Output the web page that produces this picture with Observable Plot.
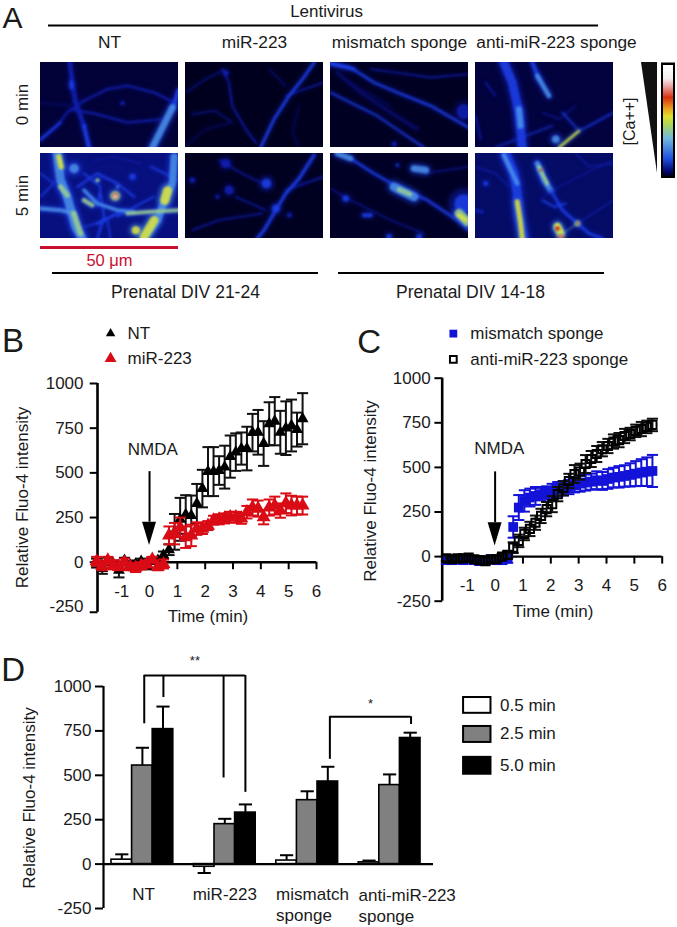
<!DOCTYPE html>
<html>
<head>
<meta charset="utf-8">
<script src="https://cdn.jsdelivr.net/npm/d3@7"></script>
<script src="https://cdn.jsdelivr.net/npm/@observablehq/plot@0.6"></script>
<style>
html,body{margin:0;padding:0;background:#fff}
#page{position:relative;width:677px;height:927px;overflow:hidden;background:#fff}
#page svg{position:absolute;overflow:visible;background:transparent}
</style>
</head>
<body>
<div id="page"></div>
<script>
const FONT = '"Liberation Sans", Arial, sans-serif';
const INK = "#1a1a1a";

/* ---------- Panel A: micrograph columns, rows, structures ---------- */
const colNames = ["NT", "miR-223", "mismatch sponge", "anti-miR-223 sponge"];
const colCentres = [109, 254, 399, 556];
const imageLefts = [40, 185, 330, 475];
const imageTops = [62, 153];
const rowNames = ["0 min", "5 min"];
const rowCentres = [104, 195];
const levelColors = ["#080c6c", "#1020b4", "#1c40e8", "#4a90e8", "#9ccf90", "#dfe83a", "#d01818", "#ffffff"];
const imageBackgrounds = ["#020238", "#00001e", "#000022", "#02023e", "#07107e", "#000020", "#000026", "#040c66"];
/* each structure: [intensity level, width, [x,y, x,y, ...]] in a 413x255 picture frame */
const imgNT0 = [
  [0,3,[0,120,80,130,140,110]],[1,14,[88,0,95,60,105,120,130,190]],[2,12,[130,190,145,255]],
  [1,6,[0,235,50,190,80,150,130,115,200,80,260,70,340,90,400,120]],
  [1,6,[90,140,170,155,260,180,370,170]],[2,6,[0,230,60,180]],[1,12,[245,122,246,122]],
  [2,14,[413,85,395,140]],[3,20,[395,135,375,175,350,225,335,255]],[2,12,[92,60,93,75]]
];
const imgMir0 = [
  [1,16,[120,30,122,32]],[1,5,[110,20,130,60,140,130,180,200,210,240]],
  [1,3,[0,90,60,50,110,25]],[1,3,[20,155,90,145,140,180]],[1,4,[300,100,413,60]],
  [0,3,[340,130,320,210,340,255]],[0,3,[0,250,60,200,140,180]],[1,3,[250,20,300,70]],
  [2,8,[385,0,350,50,310,100,265,170,225,255]]
];
const imgMis0 = [
  [0,8,[20,30,90,90,180,150,260,200]],[0,3,[40,50,120,95,180,130]],[1,4,[120,20,230,35,300,45,413,35]],
  [2,5,[0,90,70,125,140,160,220,215,280,255]],[2,10,[0,5,70,20]],
  [2,7,[0,0,60,15,130,60,200,90,300,130,413,195]],[1,40,[398,145,399,150]],[1,14,[190,245,191,245]]
];
const imgAnt0 = [
  [1,3,[200,150,250,170,300,130]],[1,4,[30,60,60,100]],
  [1,5,[0,160,15,230]],[2,26,[85,0,110,60,130,150,140,255]],[3,18,[130,140,135,190]],
  [2,12,[170,0,190,50]],[3,14,[185,40,220,100]],[2,3,[60,255,150,220,230,190]],
  [3,22,[240,230,241,230]],[2,4,[260,150,305,200]],[2,4,[310,205,340,190,413,150]],
  [5,7,[250,255,310,205]]
];
const imgNT5 = [
  [2,4,[0,60,40,90,0,130]],[2,5,[130,60,180,100,170,160]],[2,5,[230,190,300,150,340,130]],
  [2,4,[130,220,200,200,210,255]],[2,5,[330,40,413,80]],[1,4,[160,20,220,10,300,30]],
  [2,6,[110,100,170,60,230,90,280,130]],[2,6,[180,120,190,190,170,255]],[2,8,[170,210,250,170]],
  [3,26,[50,0,60,80,80,130,105,220,125,255]],[3,12,[0,165,60,170,100,180]],
  [3,22,[400,10,395,90,375,130,350,200,310,255]],[3,10,[130,110,170,150,230,170,280,175]],
  [4,12,[260,180,330,175,413,170]],[3,28,[100,45,101,45]],[4,12,[170,80,171,80]],
  [2,18,[275,70,276,70]],[3,8,[230,100,231,100]],
  [5,16,[55,10,62,40]],[4,16,[60,100,80,125]],[4,18,[100,180,120,240]],[4,14,[130,140,155,155]],
  [5,28,[372,140,380,112]],[5,26,[340,200,310,250]],[5,24,[285,230,286,230]],
  [4,26,[223,127,224,127]],[6,16,[223,127,224,127]],[7,10,[223,128,224,128]]
];
const imgMir5 = [
  [1,5,[300,110,413,70]],[1,4,[150,130,240,170]],[1,4,[20,230,100,200,230,180]],[1,4,[100,20,170,60,230,90]],
  [1,28,[120,30,121,30]],[1,26,[130,110,131,110]],[1,12,[95,130,96,130]],[1,16,[20,80,21,80]],[1,14,[310,185,311,185]],
  [2,9,[385,5,340,75,300,120,270,170,235,230,215,255]],[2,28,[242,90,243,90]],[2,22,[270,165,271,165]]
];
const imgMis5 = [
  [1,3,[0,105,80,150,180,200,280,240]],[1,3,[280,60,413,40]],
  [2,7,[60,15,130,60,200,100,290,140,380,200,413,230]],[3,16,[20,0,60,15]],
  [2,55,[398,150,399,150]],[2,8,[200,35,201,35]],[3,20,[250,45,285,50]],
  [2,18,[45,135,46,135]],[2,12,[100,185,120,185]],[2,16,[175,250,176,250]],[2,16,[265,250,266,250]],
  [3,26,[190,100,250,130]],[4,14,[205,108,238,122]],[4,28,[385,180,410,205]],[5,12,[385,185,405,200]]
];
const imgAnt5 = [
  [1,4,[0,40,60,60,100,100]],[1,3,[200,130,250,100,330,60,413,20]],[1,4,[300,0,340,40,413,30]],
  [2,14,[30,90,31,90]],[1,12,[0,170,20,175]],[2,5,[200,140,235,160,270,150]],
  [1,4,[305,210,413,140]],[2,28,[90,0,115,60,125,120,130,190,145,255]],[3,14,[85,5,125,90]],
  [3,16,[185,30,205,80,225,110]],[2,8,[225,110,260,170,305,210,340,240,380,255]],
  [5,16,[125,145,135,210,140,255]],[4,12,[190,40,215,90]],[6,7,[195,50,196,50]],
  [4,25,[245,220,255,240]],[5,14,[245,215,255,235]],[4,2,[255,245,305,210]],[4,16,[305,210,306,210]],
  [6,14,[245,225,246,225]],[6,14,[255,250,256,250]],[7,6,[255,250,256,250]],[6,7,[305,210,306,210]]
];
const allImages = [imgNT0, imgMir0, imgMis0, imgAnt0, imgNT5, imgMir5, imgMis5, imgAnt5];

const scaleStops = [65, 78, 86, 97, 108, 116, 123, 138, 158, 172, 176];
const scaleColors = ["#ffffff", "#f4eeee", "#e8a0a0", "#d83010", "#e8a020", "#e0e030", "#b0d850", "#70b8e0", "#2050e0", "#000060", "#000010"];

/* ---------- Panel B data ---------- */
const timesB = [-1.9,-1.7,-1.5,-1.3,-1.1,-0.9,-0.7,-0.5,-0.3,-0.1,0.1,0.3,0.5,0.7,0.9,1.1,1.3,1.5,1.7,1.9,2.1,2.3,2.5,2.7,2.9,3.1,3.3,3.5,3.7,3.9,4.1,4.3,4.5,4.7,4.9,5.1,5.3,5.5];
const ntValues = [-5,-35,5,-10,-45,10,-15,-10,5,-20,5,10,40,70,170,240,267,261,328,412,507,507,513,532,591,616,636,636,725,727,664,775,789,727,750,765,742,803];
const ntErrors = [25,30,20,20,40,15,20,20,15,20,15,20,20,30,100,120,108,112,110,105,137,137,80,120,118,105,90,122,105,125,125,120,135,120,150,145,95,143];
const mirValues = [5,-20,10,-15,-25,0,-25,-30,-20,-10,15,-25,-10,150,160,195,140,150,188,188,205,235,240,245,252,252,245,280,306,300,252,306,317,289,330,317,317,317];
const mirErrors = [25,25,20,25,20,20,20,25,20,20,15,20,25,50,60,55,60,60,35,30,25,25,28,28,30,30,30,35,45,45,40,45,50,40,55,55,50,50];

/* ---------- Panel C data ---------- */
const timesC = [-1.75,-1.55,-1.35,-1.15,-0.95,-0.75,-0.55,-0.35,-0.15,0.05,0.25,0.45,0.65,0.85,1.05,1.25,1.45,1.65,1.85,2.05,2.25,2.45,2.65,2.85,3.05,3.25,3.45,3.65,3.85,4.05,4.25,4.45,4.65,4.85,5.05,5.25,5.45,5.65];
const mismatchValues = [-20,-20,-15,-20,-15,-20,-25,-20,-15,-20,-20,-10,166,275,312,331,340,350,359,368,378,383,390,400,409,415,420,428,424,435,443,447,452,458,465,471,476,480];
const mismatchErrors = [20,20,18,20,18,20,22,20,20,18,20,25,60,70,60,50,50,35,35,40,40,40,40,40,45,45,45,50,50,55,55,60,60,65,70,75,80,90];
const spongeValues = [-10,-15,-10,-10,-5,-15,-20,-25,-15,-15,0,10,50,88,127,155,190,228,266,294,350,383,424,463,476,519,547,575,602,620,645,653,676,687,705,715,727,738];
const spongeErrors = [15,15,15,15,15,15,18,18,15,15,15,20,30,35,35,40,40,40,40,45,40,40,40,50,45,50,45,45,40,40,40,40,40,35,35,40,35,35];

/* ---------- Panel D data ---------- */
const groupNames = ["NT", "miR-223", "mismatch", "anti-miR-223"];
const timeNames = ["0.5 min", "2.5 min", "5.0 min"];
const timeFills = ["#ffffff", "#808080", "#000000"];
const barsNT = [25, 555, 760];
const barsMir = [-15, 225, 290];
const barsMismatch = [20, 360, 465];
const barsSponge = [10, 445, 710];
const barErrNT = [30, 100, 127];
const barErrMir = [-35, 30, 46];
const barErrMismatch = [30, 50, 83];
const barErrSponge = [10, 60, 30];

const yTicks = [-250, 0, 250, 500, 750, 1000];
const xTicks = [-1, 0, 1, 2, 3, 4, 5, 6];

/* ---------- helpers ---------- */
const page = document.getElementById("page");
function place(svg, left, top) {
  svg.style.left = left + "px";
  svg.style.top = top + "px";
  page.appendChild(svg);
}
const T = (rows, o) => Plot.text(rows, {fontSize: 17, fill: INK, ...o});
const series = (t, v, e) => t.map((x, i) => ({t: x, v: v[i], e: e[i]}));

/* ---------- Panel A frame ---------- */
const topRules = [{y: 25, a: 48, b: 598}, {y: 272.5, a: 52, b: 318}, {y: 272.5, a: 338, b: 604}];
const bottomLabels = [{x: 185, y: 292, s: "Prenatal DIV 21-24"}, {x: 470, y: 292, s: "Prenatal DIV 14-18"}];
const stripRows = d3.range(65, 176);
place(Plot.plot({
  width: 677, height: 310, margin: 0,
  style: {fontFamily: FONT},
  x: {domain: [0, 677], axis: null},
  y: {domain: [0, 310], reverse: true, axis: null},
  color: {type: "linear", domain: scaleStops, range: scaleColors},
  marks: [
    T([{x: 2, y: 18, s: "A"}], {x: "x", y: "y", text: "s", fontSize: 30, textAnchor: "start"}),
    T([{x: 326, y: 11, s: "Lentivirus"}], {x: "x", y: "y", text: "s", fontSize: 17}),
    Plot.ruleY(topRules, {y: "y", x1: "a", x2: "b", stroke: "#000", strokeWidth: 2}),
    T(colNames.map((s, i) => ({s, x: colCentres[i]})), {x: "x", y: () => 42, text: "s", fontSize: 17.3}),
    T(rowNames.map((s, i) => ({s, y: rowCentres[i]})), {x: () => 22, y: "y", text: "s", rotate: -90}),
    Plot.ruleY([{y: 247, a: 40, b: 178}], {y: "y", x1: "a", x2: "b", stroke: "#c8102e", strokeWidth: 3}),
    T([{x: 109, y: 260, s: "50 μm"}], {x: "x", y: "y", text: "s", fill: "#c8102e", fontSize: 16.5}),
    T(bottomLabels, {x: "x", y: "y", text: "s", fontSize: 17.5}),
    T([{x: 629, y: 121, s: "[Ca++]"}], {x: "x", y: "y", text: "s", rotate: -90, fontSize: 16}),
    Plot.areaX([{y: 62, a: 641, b: 657}, {y: 173, a: 657, b: 657}], {y: "y", x1: "a", x2: "b", fill: "#111"}),
    Plot.rect([{a: 661, b: 675, c: 62.5, d: 178}], {x1: "a", x2: "b", y1: "c", y2: "d", fill: "#000"}),
    Plot.rect(stripRows, {x1: () => 663, x2: () => 673, y1: d => d, y2: d => d + 1.3, fill: d => d})
  ]
}), 0, 0);

/* ---------- Panel A micrographs ---------- */
allImages.forEach((structures, k) => {
  const rows = structures.flatMap(([level, w, pts], id) =>
    d3.range(0, pts.length, 2).map(j => ({
      id, px: pts[j], py: pts[j + 1],
      c: levelColors[level], halo: levelColors[Math.max(level - (level > 3 ? 2 : 1), 0)], w: w / 3
    })));
  const svg = Plot.plot({
    width: 138, height: 85, margin: 0,
    x: {domain: [0, 413], axis: null},
    y: {domain: [0, 255], reverse: true, axis: null},
    marks: [
      Plot.rect([0], {x1: () => 0, x2: () => 413, y1: () => 0, y2: () => 255, fill: imageBackgrounds[k]}),
      Plot.line(rows, {x: "px", y: "py", z: "id", stroke: "halo", strokeWidth: d => d.w * 1.6 + 1, clip: true, imageFilter: "blur(2px)", strokeOpacity: 0.5}),
      Plot.line(rows, {x: "px", y: "py", z: "id", stroke: "c", strokeWidth: "w", clip: true, imageFilter: "blur(1.2px)", strokeOpacity: 0.85})
    ]
  });
  svg.style.overflow = "hidden";
  place(svg, imageLefts[k % 4], imageTops[k < 4 ? 0 : 1]);
});

/* ---------- Panels B and C ---------- */
function timePanel(c) {
  const errBars = (rows, color) => [
    Plot.ruleX(rows, {x: "t", y1: d => d.v - d.e, y2: d => d.v + d.e, stroke: color, strokeWidth: 2}),
    Plot.link(rows, {x1: d => d.t - c.cap, x2: d => d.t + c.cap, y1: d => d.v + d.e, y2: d => d.v + d.e, stroke: color, strokeWidth: 2}),
    Plot.link(rows, {x1: d => d.t - c.cap, x2: d => d.t + c.cap, y1: d => d.v - d.e, y2: d => d.v - d.e, stroke: color, strokeWidth: 2})
  ];
  return Plot.plot({
    width: c.width, height: 320,
    marginLeft: c.left, marginRight: c.width - c.right, marginTop: c.top, marginBottom: 320 - c.bottom,
    style: {fontFamily: FONT},
    x: {domain: [c.xMin, 6], axis: null},
    y: {domain: [-250, 1000], axis: null},
    marks: [
      Plot.ruleY([0], {stroke: "#000", strokeWidth: 2.4}),
      Plot.ruleX(xTicks, {y1: 0, y2: -42, stroke: "#000", strokeWidth: 2}),
      Plot.ruleX([c.xMin], {y1: c.foot, y2: 1000, stroke: "#000", strokeWidth: 2.6}),
      Plot.axisY({ticks: yTicks, tickSize: 0, tickPadding: c.pad, fontSize: 17, label: null, fill: INK, tickFormat: d => String(d)}),
      Plot.link(c.footTicks, {x1: () => c.xMin - 0.28, x2: () => c.xMin, y1: d => d, y2: d => d, stroke: "#000", strokeWidth: 2}),
      T(xTicks, {x: d => d, y: () => 0, dy: 29, text: d => String(d)}),
      T(["Time (min)"], {x: () => c.tLabelX, y: () => -250, dy: c.tLabelDy, text: d => d}),
      T(["Relative Fluo-4 intensity"], {x: () => c.yLabelX, y: () => c.yLabelY, text: d => d, rotate: -90}),
      T(["NMDA"], {x: () => c.nmdaX, y: () => c.nmdaY, text: d => d}),
      Plot.ruleX([0], {y1: c.arrowBase, y2: c.arrowTop, stroke: "#000", strokeWidth: 2}),
      Plot.areaX([{y: c.arrowBase, a: -0.25, b: 0.25}, {y: c.arrowTip, a: 0, b: 0}], {y: "y", x1: "a", x2: "b", fill: "#000"}),
      ...c.layers.flatMap(l => [...errBars(l.rows, l.color), Plot.dot(l.rows, {x: "t", y: "v", ...l.mark})]),
      ...c.legend.flatMap(l => [
        Plot.dot([l], {x: () => c.legendX, y: () => l.y, ...l.mark}),
        T([l.name], {x: () => c.legendX, y: () => l.y, dx: 17, text: d => d, textAnchor: "start"})
      ]),
      T([c.letter], {x: () => c.letterX, y: () => c.letterY, text: d => d, fontSize: 33, textAnchor: "start"})
    ]
  });
}
const triNT = {symbol: "triangle", r: 4.4, fill: "#000", stroke: "none"};
const triMir = {symbol: "triangle", r: 5.2, fill: "#d90b14", stroke: "none"};
const sqBlue = {symbol: "square", r: 5.5, fill: "#1212d8", stroke: "none"};
const sqOpen = {symbol: "square", r: 4.6, fill: "none", stroke: "#000", strokeWidth: 2};

place(timePanel({
  width: 340, left: 97, right: 316, top: 73, bottom: 296.4, xMin: -1.87, foot: -280, footTicks: [-280, 0, 250, 500, 750, 1000],
  tLabelX: 2.1, tLabelDy: 10, yLabelX: -4.56, yLabelY: 362, pad: 14, cap: 0.2,
  nmdaX: 0.12, nmdaY: 630, arrowBase: 224, arrowTop: 507, arrowTip: 93,
  layers: [
    {rows: series(timesB, ntValues, ntErrors), color: "#111", mark: triNT},
    {rows: series(timesB, mirValues, mirErrors), color: "#d90b14", mark: triMir}
  ],
  legend: [
    {name: "NT", y: 1280, mark: {...triNT, r: 3.5}},
    {name: "miR-223", y: 1140, mark: {...triMir, r: 4.4}}
  ],
  legendX: -1.4, letter: "B", letterX: -5.3, letterY: 1238
}), 0, 310);

place(timePanel({
  width: 337, left: 101.7, right: 321.7, top: 67.7, bottom: 290.7, xMin: -1.9, foot: -250, footTicks: [-250, 0, 250, 500, 750, 1000],
  tLabelX: 2.08, tLabelDy: 10, yLabelX: -4.48, yLabelY: 368, pad: 11.5, cap: 0.2,
  nmdaX: 0.15, nmdaY: 605, arrowBase: 190, arrowTop: 475, arrowTip: 60,
  layers: [
    {rows: series(timesC, mismatchValues, mismatchErrors), color: "#1212d8", mark: sqBlue},
    {rows: series(timesC, spongeValues, spongeErrors), color: "#111", mark: sqOpen}
  ],
  legend: [
    {name: "mismatch sponge", y: 1250, mark: {...sqBlue, r: 4.4}},
    {name: "anti-miR-223 sponge", y: 1105, mark: {...sqOpen, r: 3.8}}
  ],
  legendX: -1.5, letter: "C", letterX: -4.95, letterY: 1203
}), 340, 310);

/* ---------- Panel D ---------- */
const allBars = [barsNT, barsMir, barsMismatch, barsSponge];
const allErrs = [barErrNT, barErrMir, barErrMismatch, barErrSponge];
const barRows = groupNames.flatMap((g, i) => timeNames.map((t, j) => ({
  s: i * 4 + j, v: allBars[i][j], e: allErrs[i][j], fill: timeFills[j]
})));
const bracketMain = [{a: 1.59, h: 790}, {a: 2.52, h: 938}, {a: 5.44, h: 485}, {a: 6.5, h: 404}];
const bracketSide = [{a: 10.6, h: 590}, {a: 14.54, h: 786}];
const categoryLines = [
  {s: 1.56, y: -170, t: "NT", anchor: "middle"},
  {s: 5.5, y: -170, t: "miR-223", anchor: "middle"},
  {s: 7.99, y: -170, t: "mismatch", anchor: "start"},
  {s: 7.99, y: -290, t: "sponge", anchor: "start"},
  {s: 11.99, y: -175, t: "anti-miR-223", anchor: "start"},
  {s: 11.99, y: -295, t: "sponge", anchor: "start"}
];
const legendRows = [
  {name: timeNames[0], a: 938, b: 849, m: 893, fill: timeFills[0]},
  {name: timeNames[1], a: 775, b: 685, m: 735, fill: timeFills[1]},
  {name: timeNames[2], a: 601, b: 506, m: 556, fill: timeFills[2]}
];
const capW = 0.32;
place(Plot.plot({
  width: 677, height: 287,
  marginLeft: 103, marginRight: 244, marginTop: 46, marginBottom: 19,
  style: {fontFamily: FONT},
  x: {domain: [-0.388, 15.63], axis: null},
  y: {domain: [-250, 1000], axis: null},
  marks: [
    Plot.ruleX(barRows, {x: d => d.s + 0.5, y1: "v", y2: d => d.v + d.e, stroke: "#000", strokeWidth: 2}),
    Plot.link(barRows, {x1: d => d.s + 0.5 - capW, x2: d => d.s + 0.5 + capW, y1: d => d.v + d.e, y2: d => d.v + d.e, stroke: "#000", strokeWidth: 2}),
    Plot.rectY(barRows, {x1: "s", x2: d => d.s + 1, y1: () => 0, y2: "v", fill: "fill", stroke: "#000", strokeWidth: 1.6}),
    Plot.ruleY([0], {stroke: "#000", strokeWidth: 2.2}),
    Plot.axisY({ticks: yTicks, tickSize: 8, tickPadding: 4, fontSize: 17, label: null, fill: INK, stroke: "#000", strokeWidth: 2, tickFormat: d => String(d)}),
    Plot.ruleX([-0.388], {y1: -250, y2: 1000, stroke: "#000", strokeWidth: 2.2}),
    T(["Relative Fluo-4 intensity"], {x: () => -3.98, y: () => 372, text: d => d, rotate: -90}),
    ...categoryLines.map(l => T([l], {x: "s", y: "y", text: "t", textAnchor: l.anchor})),
    Plot.ruleY([1062], {x1: 1.59, x2: 6.5, stroke: "#000", strokeWidth: 2}),
    Plot.ruleX(bracketMain, {x: "a", y1: "h", y2: () => 1062, stroke: "#000", strokeWidth: 2}),
    Plot.ruleY([830], {x1: 10.6, x2: 14.54, stroke: "#000", strokeWidth: 2}),
    Plot.ruleX(bracketSide, {x: "a", y1: "h", y2: () => 830, stroke: "#000", strokeWidth: 2}),
    T(["**"], {x: () => 4.05, y: () => 1145, text: d => d, fontSize: 13}),
    T(["*"], {x: () => 12.57, y: () => 900, text: d => d, fontSize: 13}),
    Plot.rect(legendRows, {x1: () => 17.09, x2: () => 18.42, y1: "a", y2: "b", fill: "fill", stroke: "#000", strokeWidth: 2}),
    T(legendRows, {x: () => 18.86, y: "m", text: "name", textAnchor: "start"}),
    T(["D"], {x: () => -5.35, y: () => 1092, text: d => d, fontSize: 33, textAnchor: "start"})
  ]
}), 0, 640);
</script>
</body>
</html>
